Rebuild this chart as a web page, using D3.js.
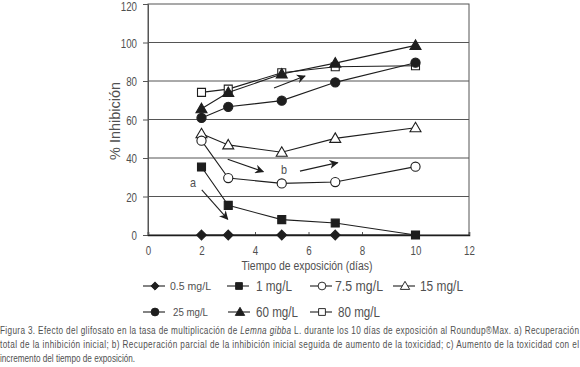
<!DOCTYPE html>
<html>
<head>
<meta charset="utf-8">
<script src="https://cdn.jsdelivr.net/npm/d3@7"></script>
<style>
  body { margin: 0; background: #fff; }
  text { font-family: "Liberation Sans", Arial, sans-serif; fill: #505050; }
</style>
</head>
<body>
<div id="chart"></div>
<script>
// data
const days = [2, 3, 5, 7, 10];
const c05 = [0, 0, 0, 0, 0];
const c1 = [35.3, 15.4, 8, 6.2, 0];
const c75 = [49, 29.6, 26.8, 27.5, 35.5];
const c15 = [52.6, 46.8, 43, 50.2, 55.7];
const c25 = [60.8, 66.6, 69.8, 79.3, 89.5];
const c60 = [65.6, 74, 83.6, 89.3, 98.5];
const c80 = [74.1, 75.8, 84.3, 87.4, 87.9];
const xTicks = [0, 2, 4, 6, 8, 10, 12];
const yTicks = [0, 20, 40, 60, 80, 100, 120];

// arrows [x1, y1, x2, y2] in data units
const arrows = [
  [2.01, 23.4, 2.98, 8.2],
  [2.98, 39.3, 4.31, 32.9],
  [5.68, 33.2, 7.09, 37.6],
  [4.71, 76.4, 5.87, 82.6]
];
const notes = [["a", 1.68, 27.5], ["b", 5.08, 33.8]];

const series = [
  {name: "0.5 mg/L", vals: c05, sym: "diamond", fill: true},
  {name: "1 mg/L", vals: c1, sym: "square", fill: true},
  {name: "7.5 mg/L", vals: c75, sym: "circle", fill: false},
  {name: "15 mg/L", vals: c15, sym: "triangle", fill: false},
  {name: "25 mg/L", vals: c25, sym: "circle", fill: true},
  {name: "60 mg/L", vals: c60, sym: "triangle", fill: true},
  {name: "80 mg/L", vals: c80, sym: "square", fill: false}
];

// legend layout: [x, y, textX, fontSize, textWidth]
const legLayout = [
  [143, 286, 27, 11, 41], [227, 286, 29, 14, 36], [310, 286, 25, 14, 48], [393, 286, 27, 14, 43],
  [143, 312, 30, 11, 35], [228, 312, 28, 14, 42], [310, 312, 28, 14, 42]
];

const W = 580, H = 367;
const SX = 0.78; // squeeze to mimic the narrow typeface
const svg = d3.select("#chart").append("svg")
    .attr("width", W)
    .attr("height", H);

const x = d3.scaleLinear().domain([0, 12]).range([148, 469]);
const y = d3.scaleLinear().domain([0, 120]).range([235, 4]);

const ink = "#1e1e1e";

function fitText(parent, tx, ty, size, str, len, anchor) {
  return parent.append("text")
      .attr("x", tx).attr("y", ty)
      .attr("text-anchor", anchor || "start")
      .attr("font-size", size)
      .attr("textLength", len)
      .attr("lengthAdjust", "spacingAndGlyphs")
      .text(str);
}

// grid lines
svg.append("g").selectAll("line")
    .data(yTicks.filter(d => d > 0 && d < 120))
    .join("line")
    .attr("x1", x(0)).attr("x2", x(12))
    .attr("y1", d => y(d)).attr("y2", d => y(d))
    .attr("stroke", "#555").attr("stroke-width", 1);

// frame
svg.append("rect")
    .attr("x", x(0)).attr("y", y(120))
    .attr("width", x(12) - x(0)).attr("height", y(0) - y(120))
    .attr("fill", "none").attr("stroke", "#555").attr("stroke-width", 1);

// axes
const yAxis = svg.append("g")
    .attr("transform", "translate(" + x(0) + ",0)")
    .call(d3.axisLeft(y).tickValues(yTicks).tickSize(5));
const xAxis = svg.append("g")
    .attr("transform", "translate(0," + y(0) + ")")
    .call(d3.axisBottom(x).tickValues(xTicks).tickSize(-3));
[yAxis, xAxis].forEach(a => {
  a.attr("font-family", null).attr("font-size", null);
  a.select(".domain").attr("stroke", "#555");
  a.selectAll(".tick line").attr("stroke", "#555");
  a.selectAll("text").attr("font-size", 12.5).attr("fill", "#505050")
      .attr("transform", "scale(" + SX + ",1)");
});
yAxis.selectAll("text").attr("x", -11 / SX).attr("dy", d => d === 120 ? "0.5em" : "0.36em");
xAxis.selectAll("text").attr("y", 11.5).attr("x", 0);
xAxis.select(".domain").attr("stroke", ink).attr("stroke-width", 1.5);

fitText(svg, 0, 0, 14, "% Inhibición", 78, "middle")
    .attr("transform", "translate(119.5,121) rotate(-90)");
fitText(svg, 307, 269.5, 12.5, "Tiempo de exposición (días)", 131, "middle");

function symPath(sym) {
  if (sym === "diamond") return d3.symbol(d3.symbolDiamond2, 60)();
  if (sym === "square") return d3.symbol(d3.symbolSquare, 64)();
  if (sym === "circle") return d3.symbol(d3.symbolCircle, 66)();
  return "M0,-5.5L5.5,4L-5.5,4Z";
}

const line = d3.line().x(d => x(d[0])).y(d => y(d[1]));

// draw in reverse so low series sit on top near zero
series.slice().reverse().forEach(s => {
  const pts = days.map((d, i) => [d, s.vals[i]]);
  const g = svg.append("g");
  g.append("path")
      .attr("d", line(pts))
      .attr("fill", "none").attr("stroke", ink).attr("stroke-width", 1.1);
  g.selectAll("path.m")
      .data(s.sym === "diamond" ? pts.slice(0, 4) : pts)
      .join("path").attr("class", "m")
      .attr("d", symPath(s.sym))
      .attr("transform", d => "translate(" + x(d[0]) + "," + y(d[1]) + ")")
      .attr("fill", s.fill ? ink : "#fff")
      .attr("stroke", ink).attr("stroke-width", 1.1);
});

// arrows
svg.append("defs").append("marker")
    .attr("id", "head")
    .attr("viewBox", "0 0 10 10")
    .attr("refX", 9).attr("refY", 5)
    .attr("markerWidth", 9).attr("markerHeight", 9)
    .attr("markerUnits", "userSpaceOnUse")
    .attr("orient", "auto")
    .append("path").attr("d", "M0,0L10,5L0,10L3,5Z").attr("fill", ink);

svg.append("g").selectAll("line")
    .data(arrows)
    .join("line")
    .attr("x1", d => x(d[0])).attr("y1", d => y(d[1]))
    .attr("x2", d => x(d[2])).attr("y2", d => y(d[3]))
    .attr("stroke", ink).attr("stroke-width", 1.1)
    .attr("marker-end", "url(#head)");

notes.forEach(n => fitText(svg, x(n[1]), y(n[2]) + 4.5, 13, n[0], 6, "middle"));

// legend
const leg = svg.append("g");
series.forEach((s, i) => {
  const [lx, ly, tx, fs, tw] = legLayout[i];
  const g = leg.append("g").attr("transform", "translate(" + lx + "," + ly + ")");
  g.append("line").attr("x1", 0).attr("x2", 22).attr("y1", 0).attr("y2", 0)
      .attr("stroke", ink).attr("stroke-width", 1.1);
  g.append("path").attr("d", symPath(s.sym))
      .attr("transform", "translate(12,0) scale(0.85)")
      .attr("fill", s.fill ? ink : "#fff")
      .attr("stroke", ink).attr("stroke-width", 1.1);
  fitText(g, tx, fs === 11 ? 4 : 5, fs, s.name, tw);
});

// caption
const cap = svg.append("text").attr("font-size", 10.5).attr("fill", "#505050")
    .attr("transform", "scale(" + SX + ",1)");
const l1 = cap.append("tspan").attr("x", 0).attr("y", 334)
    .attr("textLength", 579 / SX).attr("lengthAdjust", "spacing");
l1.append("tspan").text("Figura 3. Efecto del glifosato en la tasa de multiplicación de ");
l1.append("tspan").attr("font-style", "italic").text("Lemna gibba");
l1.append("tspan").text(" L. durante los 10 días de exposición al Roundup®Max. a) Recuperación");
cap.append("tspan").attr("x", 0).attr("y", 348)
    .attr("textLength", 579 / SX).attr("lengthAdjust", "spacing")
    .text("total de la inhibición inicial; b) Recuperación parcial de la inhibición inicial seguida de aumento de la toxicidad; c) Aumento de la toxicidad con el");
cap.append("tspan").attr("x", 0).attr("y", 362)
    .text("incremento del tiempo de exposición.");
</script>
</body>
</html>
